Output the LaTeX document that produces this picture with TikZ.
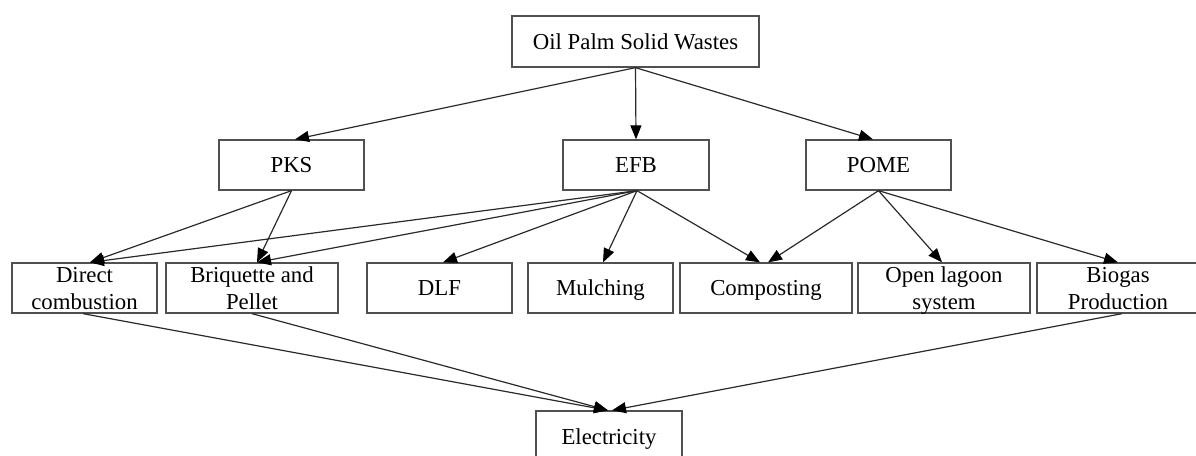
\documentclass[tikz,border=0pt]{standalone}
\usepackage{fontspec}
\setmainfont{Liberation Serif}
\usetikzlibrary{arrows.meta}
\definecolor{boxline}{HTML}{505050}
\definecolor{linkline}{HTML}{2A2A2A}
\tikzset{
  box/.style={draw=boxline, line width=1.3pt, rectangle, minimum height=50pt,
    inner sep=0pt, align=center, text=black, text depth=0pt,
    font=\fontsize{22.8}{27}\selectfont},
  link/.style={draw=linkline, line width=1.2pt,
    -{Triangle[length=14pt,width=11pt,color=black]}}
}
\begin{document}
\begin{tikzpicture}[x=1pt,y=-1pt]
\useasboundingbox (0,0) rectangle (1196,455);
\clip (0,0) rectangle (1196,455);
% source
\node[box, minimum width=247pt, minimum height=51pt] (top) at (635.5,41.5) {Oil Palm Solid Wastes};
% waste streams
\node[box, minimum width=145pt] (pks)  at (291.5,165) {PKS};
\node[box, minimum width=146pt] (efb)  at (636,165)   {EFB};
\node[box, minimum width=145pt] (pome) at (878.5,165) {POME};
% uses
\node[box, minimum width=145pt] (dc)   at (84.5,288)  {Direct\\combustion};
\node[box, minimum width=172pt] (bp)   at (252,288)   {Briquette and\\Pellet};
\node[box, minimum width=145pt] (dlf)  at (439.5,288) {DLF};
\node[box, minimum width=145pt] (mul)  at (600.5,288) {Mulching};
\node[box, minimum width=172pt] (comp) at (766,288)   {Composting};
\node[box, minimum width=172pt] (ols)  at (944,288)   {Open lagoon\\system};
\node[box, minimum width=162pt] (bio)  at (1118,288)  {Biogas\\Production};
% end product
\node[box, minimum width=146pt, minimum height=52pt] (elec) at (609,437) {Electricity};

% source to streams
\draw[link] (top.south) -- ([xshift=3.5pt]pks.north);
\draw[link] (top.south) -- (efb.north);
\draw[link] (top.south) -- ([xshift=-5.5pt]pome.north);
% PKS
\draw[link] (pks.south) -- ([xshift=5.5pt]dc.north);
\draw[link] (pks.south) -- ([xshift=5pt]bp.north);
% EFB
\draw[link] ([xshift=1pt]efb.south) -- ([xshift=5.5pt]dc.north);
\draw[link] ([xshift=1pt]efb.south) -- ([xshift=5pt]bp.north);
\draw[link] ([xshift=1pt]efb.south) -- ([xshift=3.5pt]dlf.north);
\draw[link] ([xshift=1pt]efb.south) -- ([xshift=2.5pt]mul.north);
\draw[link] ([xshift=1pt]efb.south) -- ([xshift=-6pt]comp.north);
% POME
\draw[link] (pome.south) -- ([xshift=2pt]comp.north);
\draw[link] (pome.south) -- ([xshift=-2pt]ols.north);
\draw[link] (pome.south) -- (bio.north);
% to electricity
\draw[link] ([xshift=-1.5pt]dc.south) -- ([xshift=-1pt]elec.north);
\draw[link] (bp.south) -- ([xshift=-1pt]elec.north);
\draw[link] ([xshift=4pt]bio.south) -- ([xshift=3pt]elec.north);
\end{tikzpicture}
\end{document}
